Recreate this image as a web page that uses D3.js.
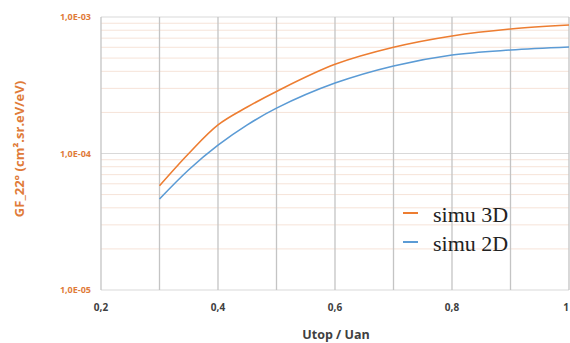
<!DOCTYPE html>
<html><head><meta charset="utf-8">
<script src="https://cdn.jsdelivr.net/npm/d3@7"></script>
<style>body{margin:0;background:#fff}svg{display:block}</style>
</head><body>
<svg id="c" width="570" height="343"></svg>
<script>
const xValues = [0.3, 0.35, 0.4, 0.45, 0.5, 0.6, 0.7, 0.8, 0.9, 1.0];
const simu3D = [5.8e-5, 1.0e-4, 1.62e-4, 2.19e-4, 2.85e-4, 4.5e-4, 6.0e-4, 7.26e-4, 8.17e-4, 8.74e-4];
const simu2D = [4.64e-5, 7.6e-5, 1.15e-4, 1.62e-4, 2.15e-4, 3.28e-4, 4.38e-4, 5.27e-4, 5.73e-4, 6.03e-4];
const xTicks = [0.2, 0.4, 0.6, 0.8, 1.0];
const xGrid = [0.2, 0.3, 0.4, 0.5, 0.6, 0.7, 0.8, 0.9, 1.0];
const yTicks = [1e-5, 1e-4, 1e-3];
const yTickLabels = ["1,0E-05", "1,0E-04", "1,0E-03"];
const seriesNames = ["simu 3D", "simu 2D"];
const colors = ["#ED7D31", "#5B9BD5"];

const svg = d3.select("#c");
const x = d3.scaleLinear().domain([0.2, 1.0]).range([101, 569]);
const y = d3.scaleLog().domain([1e-5, 1e-3]).range([290, 17]);

// minor horizontal gridlines
const minor = [];
for (let d = -5; d < -3; d++) for (let k = 2; k <= 9; k++) minor.push(k * Math.pow(10, d));
svg.append("g").selectAll("line").data(minor).join("line")
  .attr("x1", x(0.2)).attr("x2", x(1.0))
  .attr("y1", d => y(d)).attr("y2", d => y(d))
  .attr("stroke", "#f6e3d8").attr("stroke-width", 1);
// major horizontal gridlines
svg.append("g").selectAll("line").data(yTicks).join("line")
  .attr("x1", x(0.2)).attr("x2", x(1.0))
  .attr("y1", d => y(d)).attr("y2", d => y(d))
  .attr("stroke", "#d9d9d9").attr("stroke-width", 1);
// vertical gridlines
svg.append("g").selectAll("line").data(xGrid).join("line")
  .attr("x1", d => x(d)).attr("x2", d => x(d))
  .attr("y1", y(1e-3)).attr("y2", y(1e-5))
  .attr("stroke", "#c4c4c4").attr("stroke-width", 1.3);

// y axis labels
svg.append("g").selectAll("text").data(yTicks).join("text")
  .attr("x", 91).attr("y", d => y(d)).attr("dy", "0.35em")
  .attr("text-anchor", "end")
  .attr("font-family", "Open Sans, sans-serif").attr("font-weight", "bold")
  .attr("font-size", 9).attr("fill", "#E07B39")
  .text((d, i) => yTickLabels[i]);
// x axis labels
svg.append("g").selectAll("text").data(xTicks).join("text")
  .attr("x", d => d === 1 ? 566 : x(d)).attr("y", 311)
  .attr("text-anchor", "middle")
  .attr("font-family", "Open Sans, sans-serif").attr("font-weight", "bold")
  .attr("font-size", 10).attr("fill", "#404040")
  .text(d => d === 1 ? "1" : String(d).replace(".", ","));

// axis titles
svg.append("text").attr("x", 336).attr("y", 339)
  .attr("text-anchor", "middle")
  .attr("font-family", "Open Sans, sans-serif").attr("font-weight", "bold")
  .attr("font-size", 12.5).attr("fill", "#404040").text("Utop / Uan");
svg.append("text").attr("transform", "translate(24,149) rotate(-90)")
  .attr("text-anchor", "middle")
  .attr("font-family", "Open Sans, sans-serif").attr("font-weight", "bold")
  .attr("font-size", 13).attr("fill", "#E07B39").text("GF_22° (cm².sr.eV/eV)");

// lines
const line = d3.line().x(d => x(d[0])).y(d => y(d[1])).curve(d3.curveCatmullRom.alpha(0.5));
[simu3D, simu2D].forEach((s, i) => {
  svg.append("path").datum(xValues.map((v, j) => [v, s[j]]))
    .attr("d", line).attr("fill", "none")
    .attr("stroke", colors[i]).attr("stroke-width", 1.6);
});

// legend
const leg = svg.append("g");
seriesNames.forEach((n, i) => {
  const yy = 213 + i * 29;
  leg.append("line").attr("x1", 403).attr("x2", 418).attr("y1", yy).attr("y2", yy)
    .attr("stroke", colors[i]).attr("stroke-width", 2);
  leg.append("text").attr("x", 433).attr("y", yy + 9)
    .attr("font-family", "Liberation Serif, Times New Roman, serif")
    .attr("font-size", 22).attr("fill", "#222").text(n);
});
</script>
</body></html>
